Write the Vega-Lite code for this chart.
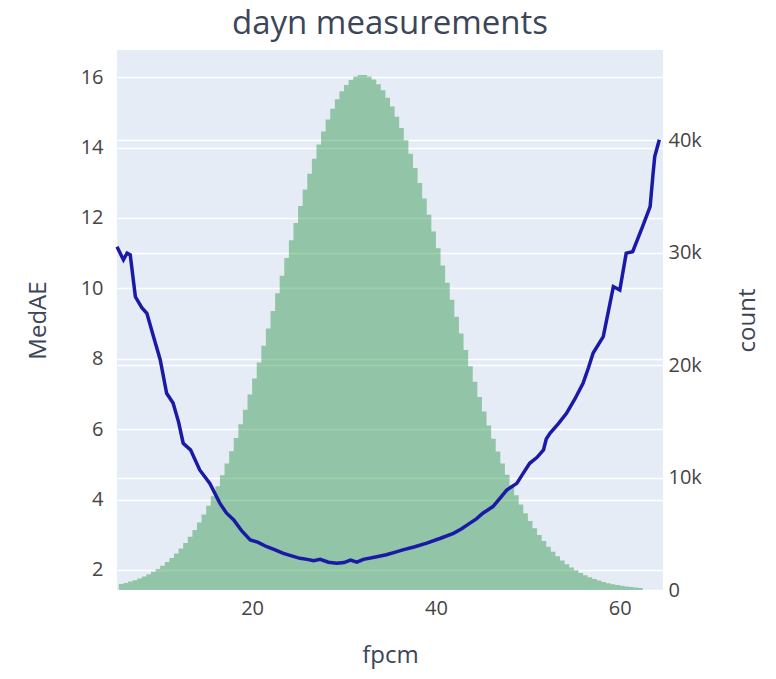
{
  "$schema": "https://vega.github.io/schema/vega-lite/v6.json",
  "width": 546,
  "height": 540,
  "autosize": {"type": "none"},
  "padding": {"left": 117, "top": 50, "right": 113, "bottom": 89},
  "background": "white",
  "config": {
    "view": {"fill": "#e5ecf6", "stroke": null},
    "font": "Open Sans",
    "axis": {
      "domain": false,
      "ticks": false,
      "gridColor": "white",
      "gridWidth": 1.5,
      "labelFont": "Open Sans",
      "labelFontSize": 20,
      "labelColor": "#454545",
      "titleFont": "Open Sans",
      "titleFontSize": 24,
      "titleFontWeight": "normal",
      "titleColor": "#3c4658"
    }
  },
  "title": {
    "text": "dayn measurements",
    "font": "Open Sans",
    "fontSize": 33,
    "fontWeight": "normal",
    "color": "#3c4658",
    "anchor": "middle",
    "offset": 9
  },
  "datasets": {
    "hist": [
      {"fpcm": 5.5, "count": 535}, {"fpcm": 6.0, "count": 633}, {"fpcm": 6.5, "count": 747}, {"fpcm": 7.0, "count": 877},
      {"fpcm": 7.5, "count": 1028}, {"fpcm": 8.0, "count": 1200}, {"fpcm": 8.5, "count": 1397}, {"fpcm": 9.0, "count": 1620},
      {"fpcm": 9.5, "count": 1875}, {"fpcm": 10.0, "count": 2159}, {"fpcm": 10.5, "count": 2480}, {"fpcm": 11.0, "count": 2841},
      {"fpcm": 11.5, "count": 3243}, {"fpcm": 12.0, "count": 3693}, {"fpcm": 12.5, "count": 4184}, {"fpcm": 13.0, "count": 4731},
      {"fpcm": 13.5, "count": 5330}, {"fpcm": 14.0, "count": 5990}, {"fpcm": 14.5, "count": 6710}, {"fpcm": 15.0, "count": 7490},
      {"fpcm": 15.5, "count": 8330}, {"fpcm": 16.0, "count": 9230}, {"fpcm": 16.5, "count": 10200}, {"fpcm": 17.0, "count": 11240},
      {"fpcm": 17.5, "count": 12340}, {"fpcm": 18.0, "count": 13510}, {"fpcm": 18.5, "count": 14740}, {"fpcm": 19.0, "count": 16030},
      {"fpcm": 19.5, "count": 17380}, {"fpcm": 20.0, "count": 18790}, {"fpcm": 20.5, "count": 20230}, {"fpcm": 21.0, "count": 21720},
      {"fpcm": 21.5, "count": 23250}, {"fpcm": 22.0, "count": 24790}, {"fpcm": 22.5, "count": 26370}, {"fpcm": 23.0, "count": 27940},
      {"fpcm": 23.5, "count": 29510}, {"fpcm": 24.0, "count": 31080}, {"fpcm": 24.5, "count": 32620}, {"fpcm": 25.0, "count": 34130},
      {"fpcm": 25.5, "count": 35590}, {"fpcm": 26.0, "count": 37000}, {"fpcm": 26.5, "count": 38330}, {"fpcm": 27.0, "count": 39590},
      {"fpcm": 27.5, "count": 40760}, {"fpcm": 28.0, "count": 41820}, {"fpcm": 28.5, "count": 42780}, {"fpcm": 29.0, "count": 43620},
      {"fpcm": 29.5, "count": 44330}, {"fpcm": 30.0, "count": 44900}, {"fpcm": 30.5, "count": 45340}, {"fpcm": 31.0, "count": 45640},
      {"fpcm": 31.5, "count": 45780}, {"fpcm": 32.0, "count": 45780}, {"fpcm": 32.5, "count": 45640}, {"fpcm": 33.0, "count": 45370},
      {"fpcm": 33.5, "count": 44960}, {"fpcm": 34.0, "count": 44420}, {"fpcm": 34.5, "count": 43760}, {"fpcm": 35.0, "count": 42970},
      {"fpcm": 35.5, "count": 42070}, {"fpcm": 36.0, "count": 41070}, {"fpcm": 36.5, "count": 39970}, {"fpcm": 37.0, "count": 38780},
      {"fpcm": 37.5, "count": 37510}, {"fpcm": 38.0, "count": 36180}, {"fpcm": 38.5, "count": 34790}, {"fpcm": 39.0, "count": 33350},
      {"fpcm": 39.5, "count": 31870}, {"fpcm": 40.0, "count": 30370}, {"fpcm": 40.5, "count": 28840}, {"fpcm": 41.0, "count": 27320},
      {"fpcm": 41.5, "count": 25800}, {"fpcm": 42.0, "count": 24290}, {"fpcm": 42.5, "count": 22800}, {"fpcm": 43.0, "count": 21330},
      {"fpcm": 43.5, "count": 19900}, {"fpcm": 44.0, "count": 18510}, {"fpcm": 44.5, "count": 17160}, {"fpcm": 45.0, "count": 15870},
      {"fpcm": 45.5, "count": 14620}, {"fpcm": 46.0, "count": 13440}, {"fpcm": 46.5, "count": 12310}, {"fpcm": 47.0, "count": 11240},
      {"fpcm": 47.5, "count": 10240}, {"fpcm": 48.0, "count": 9300}, {"fpcm": 48.5, "count": 8420}, {"fpcm": 49.0, "count": 7590},
      {"fpcm": 49.5, "count": 6830}, {"fpcm": 50.0, "count": 6130}, {"fpcm": 50.5, "count": 5480}, {"fpcm": 51.0, "count": 4890},
      {"fpcm": 51.5, "count": 4350}, {"fpcm": 52.0, "count": 3850}, {"fpcm": 52.5, "count": 3400}, {"fpcm": 53.0, "count": 3000},
      {"fpcm": 53.5, "count": 2630}, {"fpcm": 54.0, "count": 2300}, {"fpcm": 54.5, "count": 2010}, {"fpcm": 55.0, "count": 1750},
      {"fpcm": 55.5, "count": 1520}, {"fpcm": 56.0, "count": 1320}, {"fpcm": 56.5, "count": 1130}, {"fpcm": 57.0, "count": 974},
      {"fpcm": 57.5, "count": 835}, {"fpcm": 58.0, "count": 713}, {"fpcm": 58.5, "count": 607}, {"fpcm": 59.0, "count": 516},
      {"fpcm": 59.5, "count": 438}, {"fpcm": 60.0, "count": 370}, {"fpcm": 60.5, "count": 311}, {"fpcm": 61.0, "count": 261},
      {"fpcm": 61.5, "count": 220}, {"fpcm": 62.0, "count": 180}, {"fpcm": 62.5, "count": 0}
    ],
    "medae": [
      {"fpcm": 5.3, "MedAE": 11.18}, {"fpcm": 6.0, "MedAE": 10.81}, {"fpcm": 6.4, "MedAE": 11.0}, {"fpcm": 6.74, "MedAE": 10.95},
      {"fpcm": 7.3, "MedAE": 9.76}, {"fpcm": 8.0, "MedAE": 9.45}, {"fpcm": 8.55, "MedAE": 9.29}, {"fpcm": 9.3, "MedAE": 8.6},
      {"fpcm": 10.0, "MedAE": 7.97}, {"fpcm": 10.7, "MedAE": 7.02}, {"fpcm": 11.4, "MedAE": 6.74}, {"fpcm": 12.0, "MedAE": 6.2},
      {"fpcm": 12.5, "MedAE": 5.6}, {"fpcm": 13.3, "MedAE": 5.41}, {"fpcm": 14.3, "MedAE": 4.84}, {"fpcm": 15.4, "MedAE": 4.46},
      {"fpcm": 16.5, "MedAE": 3.89}, {"fpcm": 17.2, "MedAE": 3.62}, {"fpcm": 18.0, "MedAE": 3.42}, {"fpcm": 18.9, "MedAE": 3.1},
      {"fpcm": 19.8, "MedAE": 2.85}, {"fpcm": 20.6, "MedAE": 2.79}, {"fpcm": 21.6, "MedAE": 2.66}, {"fpcm": 22.5, "MedAE": 2.57},
      {"fpcm": 23.4, "MedAE": 2.47}, {"fpcm": 24.3, "MedAE": 2.4}, {"fpcm": 25.2, "MedAE": 2.33}, {"fpcm": 26.0, "MedAE": 2.3},
      {"fpcm": 26.7, "MedAE": 2.26}, {"fpcm": 27.4, "MedAE": 2.3}, {"fpcm": 28.3, "MedAE": 2.22}, {"fpcm": 29.2, "MedAE": 2.19},
      {"fpcm": 30.0, "MedAE": 2.21}, {"fpcm": 30.7, "MedAE": 2.28}, {"fpcm": 31.4, "MedAE": 2.22}, {"fpcm": 32.1, "MedAE": 2.3},
      {"fpcm": 33.3, "MedAE": 2.36}, {"fpcm": 34.6, "MedAE": 2.43}, {"fpcm": 35.5, "MedAE": 2.5}, {"fpcm": 36.4, "MedAE": 2.57},
      {"fpcm": 37.7, "MedAE": 2.66}, {"fpcm": 39.0, "MedAE": 2.76}, {"fpcm": 40.5, "MedAE": 2.9}, {"fpcm": 41.9, "MedAE": 3.04},
      {"fpcm": 42.8, "MedAE": 3.17}, {"fpcm": 43.7, "MedAE": 3.33}, {"fpcm": 44.4, "MedAE": 3.45}, {"fpcm": 45.1, "MedAE": 3.61},
      {"fpcm": 46.2, "MedAE": 3.8}, {"fpcm": 47.0, "MedAE": 4.05}, {"fpcm": 47.7, "MedAE": 4.27}, {"fpcm": 48.8, "MedAE": 4.46},
      {"fpcm": 49.5, "MedAE": 4.75}, {"fpcm": 50.2, "MedAE": 5.03}, {"fpcm": 51.0, "MedAE": 5.2}, {"fpcm": 51.7, "MedAE": 5.41},
      {"fpcm": 52.0, "MedAE": 5.72}, {"fpcm": 52.4, "MedAE": 5.88}, {"fpcm": 53.3, "MedAE": 6.15}, {"fpcm": 54.2, "MedAE": 6.45},
      {"fpcm": 55.1, "MedAE": 6.85}, {"fpcm": 56.0, "MedAE": 7.3}, {"fpcm": 56.6, "MedAE": 7.75}, {"fpcm": 57.1, "MedAE": 8.16},
      {"fpcm": 58.2, "MedAE": 8.63}, {"fpcm": 58.8, "MedAE": 9.4}, {"fpcm": 59.3, "MedAE": 10.05}, {"fpcm": 60.0, "MedAE": 9.95},
      {"fpcm": 60.7, "MedAE": 11.0}, {"fpcm": 61.4, "MedAE": 11.04}, {"fpcm": 62.4, "MedAE": 11.7}, {"fpcm": 63.3, "MedAE": 12.32},
      {"fpcm": 63.6, "MedAE": 13.2}, {"fpcm": 63.8, "MedAE": 13.74}, {"fpcm": 64.3, "MedAE": 14.22}
    ]
  },
  "layer": [
    {
      "data": {"name": "hist"},
      "mark": {"type": "area", "interpolate": "step-after", "color": "#1f8f3a", "opacity": 0.42},
      "encoding": {
        "x": {
          "field": "fpcm", "type": "quantitative",
          "scale": {"domain": [5.3, 64.7], "nice": false, "zero": false},
          "axis": {"values": [20, 40, 60], "grid": false, "labelPadding": 8, "title": "fpcm", "titlePadding": 25}
        },
        "y": {
          "field": "count", "type": "quantitative",
          "scale": {"domain": [0, 48000], "nice": false},
          "axis": {"orient": "right", "grid": true, "values": [0, 10000, 20000, 30000, 40000], "labelExpr": "datum.value == 0 ? '0' : format(datum.value / 1000, 'd') + 'k'", "labelPadding": 5, "title": "count", "titleAngle": 270, "titlePadding": 58}
        }
      }
    },
    {
      "data": {"name": "medae"},
      "mark": {"type": "line", "color": "#1a1aa6", "strokeWidth": 3.5},
      "encoding": {
        "x": {"field": "fpcm", "type": "quantitative"},
        "y": {
          "field": "MedAE", "type": "quantitative",
          "scale": {"domain": [1.43, 16.77], "nice": false, "zero": false},
          "axis": {"orient": "left", "grid": true, "values": [2, 4, 6, 8, 10, 12, 14, 16], "labelPadding": 14, "title": "MedAE", "titlePadding": 30}
        }
      }
    }
  ],
  "resolve": {"scale": {"y": "independent"}, "axis": {"y": "independent"}}
}
